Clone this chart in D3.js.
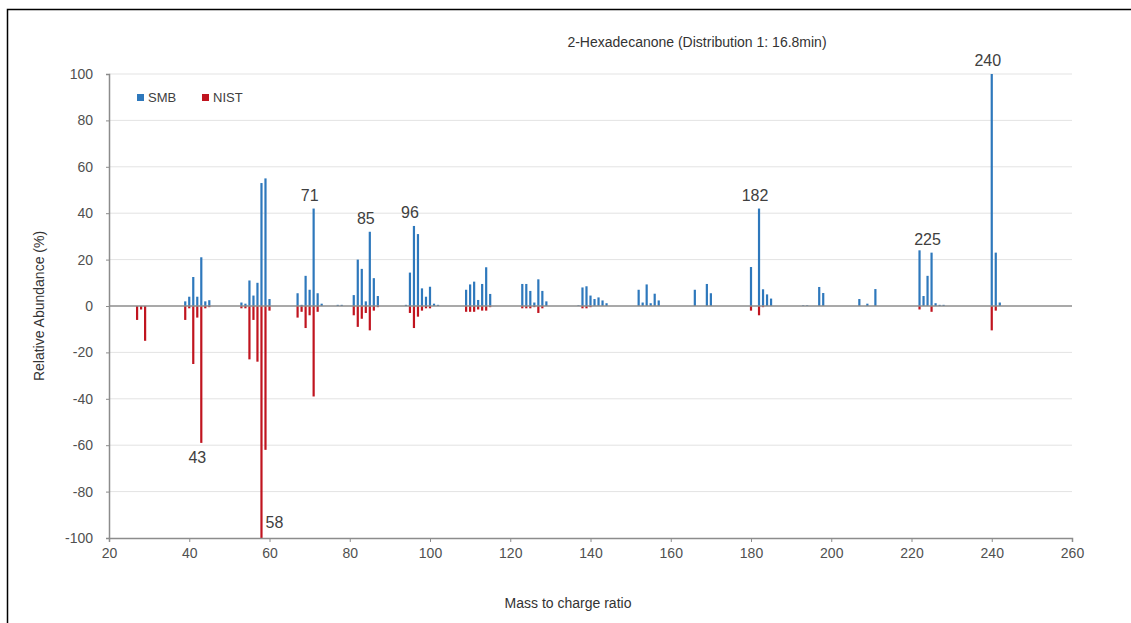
<html>
<head>
    <meta charset="utf-8">
    <title>2-Hexadecanone</title>
    <script src="https://cdn.jsdelivr.net/npm/d3@7/dist/d3.min.js"></script>
</head>
<style>
    html, body { margin: 0; padding: 0; background: #fff; }
    text { font-family: "Liberation Sans", Arial, sans-serif; }
</style>
<body>
<svg width="1131" height="623" id="mainsvg"></svg>
<script>
    // mass / charge values and both spectra (relative abundance %)
    const mz   = [27, 28, 29, 39, 40, 41, 42, 43, 44, 45, 53, 54, 55, 56, 57, 58, 59, 60,
                  67, 68, 69, 70, 71, 72, 73, 77, 78, 81, 82, 83, 84, 85, 86, 87,
                  94, 95, 96, 97, 98, 99, 100, 101, 102, 109, 110, 111, 112, 113, 114, 115,
                  123, 124, 125, 126, 127, 128, 129, 137, 138, 139, 140, 141, 142, 143, 144,
                  152, 153, 154, 155, 156, 157, 166, 169, 170, 180, 182, 183, 184, 185,
                  193, 194, 197, 198, 207, 209, 211, 222, 223, 224, 225, 226, 227, 228, 240, 241, 242];
    const smb  = [0, 0, 0, 2, 4, 12.5, 4, 21, 2, 2.5, 1.5, 1, 11, 4.5, 10, 53, 55, 3,
                  5.5, 0.5, 13, 7, 42, 5.5, 1, 0.5, 0.5, 4.7, 20, 16, 2, 32, 12, 4.3,
                  0.5, 14.4, 34.5, 31, 7.6, 4, 8.3, 1, 0.5, 7, 9.3, 10.5, 2.6, 9.5, 16.7, 5.2,
                  9.5, 9.5, 6.5, 1.5, 11.5, 6.5, 2, 0.3, 8, 8.5, 4.5, 3, 3.7, 2.4, 1.2,
                  7, 1.5, 9.3, 1.2, 5.3, 2.4, 7, 9.5, 5.5, 16.8, 42, 7.2, 5, 3.2,
                  0.3, 0.3, 8.2, 5.6, 3, 1, 7.3, 24, 4.3, 13, 23, 1.2, 0.5, 0.5, 100, 23, 1.5];
    const nist = [-6, -1.5, -15, -6, -1, -25, -5, -59, -1, -0.5, -1, -1, -23, -6, -24, -100, -62, -2,
                  -5, -2.5, -9.5, -4, -39, -2.5, 0, 0, 0, -4, -9, -5.5, -3, -10.5, -2, -0.5,
                  0, -3, -9.5, -4.6, -2, -1, -1, 0, 0, -2.5, -2.5, -2.5, -1.5, -2, -2, -0.5,
                  -1, -1, -1, -0.5, -3, -1, 0, 0, -1, -1, -0.5, 0, 0, 0, 0,
                  0, 0, 0, 0, 0, 0, 0, 0, 0, -2, -4, -0.5, 0, 0,
                  0, 0, 0, 0, 0, 0, 0, -1.5, 0, 0, -2.5, 0, 0, 0, -10.5, -2, 0];

    // annotated peaks
    const peakMz   = [43, 58, 71, 85, 96, 182, 225, 240];
    const peakFrom = ['nist', 'nist', 'smb', 'smb', 'smb', 'smb', 'smb', 'smb'];

    const xTicks = [20, 40, 60, 80, 100, 120, 140, 160, 180, 200, 220, 240, 260];
    const yTicks = [-100, -80, -60, -40, -20, 0, 20, 40, 60, 80, 100];

    const blue = '#2e78bc';
    const red = '#c0141f';

    const svg = d3.select('#mainsvg');
    const margin = {top: 74, right: 59, bottom: 85, left: 109};
    const innerWidth = 1131 - margin.left - margin.right;
    const innerHeight = 623 - margin.top - margin.bottom;

    // outer frame
    svg.append('rect').attr('x', 7.5).attr('y', 9.5).attr('width', 1130).attr('height', 620)
        .attr('fill', 'none').attr('stroke', '#000').attr('stroke-width', 1.5);

    const mainGroup = svg.append('g')
        .attr('transform', `translate(${margin.left}, ${margin.top})`);

    const xScale = d3.scaleLinear().domain([20, 260]).range([0, innerWidth]);
    const yScale = d3.scaleLinear().domain([-100, 100]).range([innerHeight, 0]);

    // gridlines
    mainGroup.selectAll('.grid').data(yTicks.filter(d => d > -100 && d !== 0)).join('line')
        .attr('class', 'grid')
        .attr('x1', 0).attr('x2', innerWidth)
        .attr('y1', d => yScale(d)).attr('y2', d => yScale(d))
        .attr('stroke', '#e3e3e3').attr('stroke-width', 1);

    const data = mz.map((m, i) => ({mz: m, smb: smb[i], nist: nist[i]}));
    const barW = 2.2;

    mainGroup.selectAll('.smb').data(data.filter(d => d.smb > 0)).join('rect')
        .attr('class', 'smb')
        .attr('x', d => xScale(d.mz) - barW / 2)
        .attr('width', barW)
        .attr('y', d => yScale(d.smb))
        .attr('height', d => yScale(0) - yScale(d.smb))
        .attr('fill', blue);

    mainGroup.selectAll('.nist').data(data.filter(d => d.nist < 0)).join('rect')
        .attr('class', 'nist')
        .attr('x', d => xScale(d.mz) - barW / 2)
        .attr('width', barW)
        .attr('y', yScale(0))
        .attr('height', d => yScale(d.nist) - yScale(0))
        .attr('fill', red);

    // zero line
    mainGroup.append('line')
        .attr('x1', 0).attr('x2', innerWidth)
        .attr('y1', yScale(0)).attr('y2', yScale(0))
        .attr('stroke', '#8c8c8c').attr('stroke-width', 1.3);

    // axes
    const xAxisGroup = mainGroup.append('g')
        .attr('transform', `translate(0, ${innerHeight})`)
        .call(d3.axisBottom(xScale).tickValues(xTicks).tickSize(4).tickFormat(d => String(d)));
    const yAxisGroup = mainGroup.append('g')
        .call(d3.axisLeft(yScale).tickValues(yTicks).tickSize(3).tickFormat(d => String(d)));

    [xAxisGroup, yAxisGroup].forEach(g => {
        g.select('.domain').attr('stroke', '#8c8c8c').attr('stroke-width', 1.5);
        g.selectAll('.tick line').attr('stroke', '#8c8c8c');
        g.selectAll('.tick text').attr('fill', '#505050').style('font-size', '14px');
    });
    xAxisGroup.selectAll('.tick text').attr('dy', '0.95em');
    yAxisGroup.selectAll('.tick text').attr('x', -16);

    // peak labels
    mainGroup.selectAll('.peak').data(peakMz).join('text')
        .attr('class', 'peak')
        .attr('x', (d, i) => peakFrom[i] === 'nist' && d === 58 ? xScale(d) + 13 : xScale(d) - 4)
        .attr('y', (d, i) => {
            const row = data.find(r => r.mz === d);
            if (peakFrom[i] === 'nist') return d === 58 ? yScale(row.nist) - 10 : yScale(row.nist) + 20;
            return yScale(row.smb) - 8;
        })
        .attr('text-anchor', 'middle')
        .attr('fill', '#404040')
        .style('font-size', '16px')
        .text(d => d);

    // title and axis titles
    svg.append('text').attr('x', 697).attr('y', 47).attr('text-anchor', 'middle')
        .attr('fill', '#333').style('font-size', '14px')
        .text('2-Hexadecanone (Distribution 1: 16.8min)');
    svg.append('text').attr('x', 568).attr('y', 608).attr('text-anchor', 'middle')
        .attr('fill', '#333').style('font-size', '14px')
        .text('Mass to charge ratio');
    svg.append('text').attr('transform', 'translate(44, 306) rotate(-90)').attr('text-anchor', 'middle')
        .attr('fill', '#333').style('font-size', '14px')
        .text('Relative Abundance (%)');

    // legend
    const legend = svg.append('g').attr('transform', 'translate(137, 94)');
    const legendItems = [{name: 'SMB', color: blue, x: 0}, {name: 'NIST', color: red, x: 65}];
    legendItems.forEach(l => {
        legend.append('rect').attr('x', l.x).attr('y', 0).attr('width', 7).attr('height', 7).attr('fill', l.color);
        legend.append('text').attr('x', l.x + 11).attr('y', 8).attr('fill', '#404040')
            .style('font-size', '13px').text(l.name);
    });
</script>
</body>
</html>
